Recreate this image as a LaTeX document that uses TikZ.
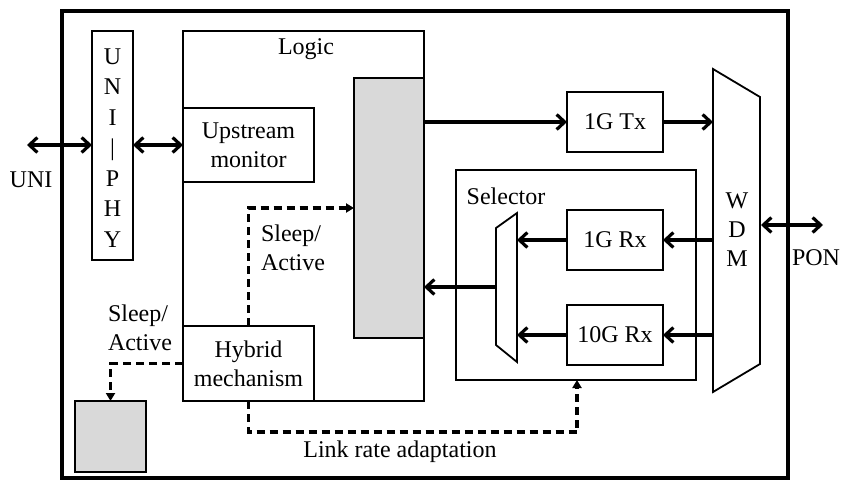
\documentclass[tikz,border=0pt]{standalone}
\usepackage{fontspec}
\setmainfont{Liberation Serif}
\usetikzlibrary{arrows.meta}
\definecolor{blockgray}{HTML}{D9D9D9}
\tikzset{
  box/.style={draw, line width=1.8pt, inner sep=0pt, outer sep=0pt, align=center},
  graybox/.style={box, fill=blockgray},
  lbl/.style={inner sep=0pt, align=center},
  sig/.style={line width=3.2pt, -{Straight Barb[length=8pt,width=15pt]}},
  bisig/.style={line width=3.2pt, {Straight Barb[length=8pt,width=15pt]}-{Straight Barb[length=8pt,width=15pt]}},
  ctrl/.style={line width=3.2pt, dash pattern=on 8pt off 5pt, -{Triangle[length=8pt,width=9pt]}},
}
\begin{document}
\begin{tikzpicture}[x=1pt,y=-1pt,font=\fontsize{24}{29}\selectfont]
\useasboundingbox (0,0) rectangle (844,481);

% ONU enclosure
\draw[line width=4pt] (62,11) rectangle (788,478);

% UNI PHY
\node[box, minimum width=41pt, minimum height=229pt] (phy) at (112.5,145.5) {};
\node[lbl, font=\fontsize{24}{30.5}\selectfont] at (112.5,148) {U\\N\\I\\|\\P\\H\\Y};

% Logic block
\node[box, minimum width=241pt, minimum height=370pt] (logic) at (303.5,216) {};
\node[lbl] (logiclbl) at (306,49) {Logic};
\node[graybox, minimum width=70pt, minimum height=260pt] (core) at (389,208) {};
\node[box, minimum width=131pt, minimum height=74pt] (up) at (248.5,145) {Upstream\\monitor};
\node[box, minimum width=131pt, minimum height=75pt] (hy) at (248.5,363.5) {Hybrid\\mechanism};

% Element put to sleep
\node[graybox, minimum width=71pt, minimum height=71pt] (sg) at (110.5,436.5) {};

% Transmitter
\node[box, minimum width=96pt, minimum height=60pt] (tx) at (615,122) {1G Tx};

% Selector with receivers and multiplexer
\node[box, minimum width=240pt, minimum height=210pt] (sel) at (576,275) {};
\node[lbl] (sellbl) at (506,196) {Selector};
\node[box, minimum width=96pt, minimum height=60pt] (rx1) at (615,240) {1G Rx};
\node[box, minimum width=96pt, minimum height=60pt] (rx10) at (615,335) {10G Rx};
\draw[line width=1.8pt] (496,228) -- (517,213) -- (517,362) -- (496,345) -- cycle;
\coordinate (muxR) at (517,287);
\coordinate (muxL) at (496,287);

% WDM
\draw[line width=1.8pt] (713,69) -- (760,97) -- (760,364) -- (713,392) -- cycle;
\coordinate (wdmL) at (713,230);
\coordinate (wdmR) at (761,225);
\node[lbl] (wdm) at (737,230) {W\\D\\M};

% External interfaces
\coordinate (uniend) at (27,145);
\coordinate (ponend) at (823,225);
\node[lbl] (uni) at (31,180) {UNI};
\node[lbl] (pon) at (816,258) {PON};

% Data paths
\draw[bisig] (uniend) -- (phy.west |- uniend);
\draw[bisig] (phy.east |- up.west) -- (up.west);
\draw[sig] (core.east |- tx.west) -- (tx.west);
\draw[sig] (tx.east) -- (tx.east -| wdmL);
\draw[bisig] (wdmR) -- (ponend);
\draw[sig] (rx1.east -| wdmL) -- (rx1.east);
\draw[sig] (rx10.east -| wdmL) -- (rx10.east);
\draw[sig] (rx1.west) -- (rx1.west -| muxR);
\draw[sig] (rx10.west) -- (rx10.west -| muxR);
\draw[sig] (muxL) -- (core.east |- muxL);

% Control paths
\coordinate (sa) at (354,208);
\coordinate (lr) at (577,432);
\draw[ctrl] (hy.north) |- (sa);
\draw[ctrl] (hy.west) -| (sg.north);
\draw[ctrl] (hy.south) |- (lr) -- (lr |- sel.south);
\node[lbl, align=left] (sa1) at (293,248) {Sleep/\\Active};
\node[lbl, align=left] (sa2) at (140,328) {Sleep/\\Active};
\node[lbl] (lrlbl) at (400,452) {Link rate adaptation};
\end{tikzpicture}
\end{document}
